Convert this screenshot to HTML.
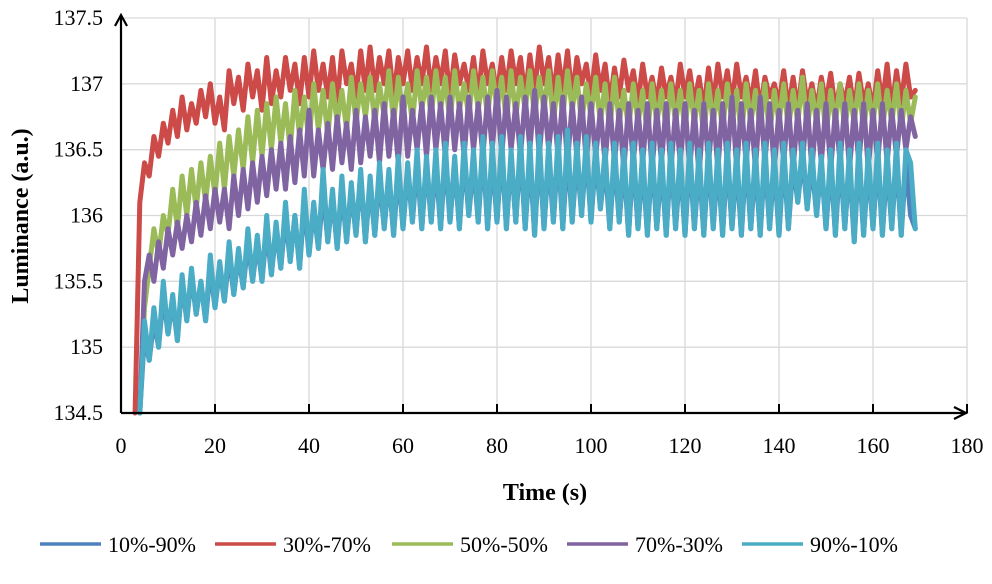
<!DOCTYPE html>
<html><head><meta charset="utf-8"><style>
html,body{margin:0;padding:0;background:#fff;}
svg{display:block;font-family:"Liberation Serif",serif;}
</style></head><body>
<svg id="chart" width="992" height="584" viewBox="0 0 992 584" xmlns="http://www.w3.org/2000/svg">
<g id="grid"></g>
<g id="series"></g>
<g id="axes"></g>
<text x="545" y="500" font-size="24" font-weight="bold" text-anchor="middle">Time (s)</text>
<text transform="translate(28,216) rotate(-90)" font-size="24" font-weight="bold" text-anchor="middle">Luminance (a.u.)</text>
<g id="legend"></g>
</svg>
<script>
const xTicks=[0,20,40,60,80,100,120,140,160,180];
const yTicks=[134.5,135,135.5,136,136.5,137,137.5];
const yTickLabels=["134.5","135","135.5","136","136.5","137","137.5"];
const seriesNames=["10%-90%","30%-70%","50%-50%","70%-30%","90%-10%"];
const seriesStart=[4,3,4,4,4];
const red=[134.5,136.1,136.4,136.3,136.6,136.45,136.7,136.55,136.8,136.6,136.9,136.65,136.85,136.7,136.95,136.75,137.0,136.7,136.9,136.65,137.1,136.85,137.05,136.8,137.15,136.9,137.1,136.8,137.2,136.85,137.1,136.9,137.2,136.95,137.15,136.85,137.2,136.9,137.25,136.95,137.15,136.9,137.2,136.85,137.25,137.0,137.15,136.9,137.25,136.95,137.28,136.95,137.2,137.0,137.25,136.9,137.2,137.0,137.25,136.95,137.2,137.0,137.28,136.95,137.2,137.0,137.25,136.9,137.22,137.0,137.15,136.95,137.2,136.9,137.25,137.0,137.15,136.9,137.2,136.95,137.25,137.0,137.2,136.9,137.22,136.95,137.28,137.0,137.2,136.9,137.22,136.95,137.25,136.9,137.2,137.0,137.15,136.9,137.22,136.95,137.15,136.85,137.12,136.9,137.18,136.95,137.1,136.85,137.15,136.9,137.05,136.85,137.12,136.9,137.05,136.85,137.15,136.9,137.1,136.85,137.05,136.8,137.12,136.85,137.15,136.9,137.1,136.85,137.15,136.9,137.05,136.85,137.1,136.8,137.05,136.9,137.0,136.85,137.1,136.8,137.05,136.8,137.1,136.85,137.0,136.8,137.05,136.85,137.08,136.8,137.0,136.85,137.05,136.8,137.08,136.85,137.0,136.8,137.1,136.85,137.15,136.8,137.1,136.85,137.15,136.9,136.95];
const green=[134.5,135.3,135.6,135.9,135.7,136.0,135.85,136.2,135.9,136.3,136.0,136.35,136.05,136.4,136.1,136.45,136.15,136.55,136.2,136.6,136.3,136.65,136.35,136.75,136.4,136.8,136.45,136.85,136.5,136.9,136.55,136.85,136.5,136.95,136.6,136.9,136.55,137.0,136.65,136.95,136.6,137.0,136.7,136.95,136.65,137.05,136.7,137.0,136.75,137.05,136.7,137.0,136.75,137.1,136.7,137.05,136.75,137.0,136.7,137.1,136.8,137.05,136.75,137.1,136.8,137.05,136.7,137.1,136.8,137.0,136.75,137.1,136.8,137.05,136.75,137.1,136.8,137.05,136.7,137.1,136.75,137.05,136.8,137.1,136.75,137.05,136.8,137.1,136.7,137.05,136.75,137.1,136.8,137.05,136.7,137.0,136.75,137.05,136.7,137.0,136.65,137.05,136.7,136.95,136.65,137.0,136.7,136.95,136.6,137.0,136.7,136.95,136.65,137.0,136.7,136.95,136.65,137.0,136.7,136.95,136.6,137.0,136.7,136.95,136.65,137.0,136.7,136.95,136.6,137.0,136.7,136.95,136.65,137.0,136.6,136.95,136.7,137.0,136.65,136.95,136.7,137.05,136.65,136.95,136.7,137.0,136.6,136.95,136.7,137.0,136.65,136.95,136.7,137.0,136.65,136.95,136.7,137.0,136.65,136.95,136.7,137.0,136.65,136.95,136.7,136.9];
const purple=[134.5,135.5,135.7,135.5,135.8,135.6,135.9,135.7,135.95,135.75,136.0,135.8,136.1,135.85,136.15,135.9,136.2,135.95,136.2,135.9,136.3,136.0,136.35,136.05,136.4,136.1,136.45,136.15,136.5,136.2,136.55,136.2,136.6,136.25,136.65,136.3,136.8,136.3,136.65,136.35,136.7,136.35,136.75,136.4,136.7,136.35,136.8,136.4,136.75,136.45,136.8,136.4,136.85,136.45,136.8,136.4,136.9,136.45,136.8,136.5,136.85,136.45,136.9,136.5,136.85,136.45,136.9,136.5,136.85,136.45,136.9,136.5,136.85,136.45,136.9,136.5,136.95,136.45,136.9,136.5,136.85,136.45,136.9,136.5,136.95,136.45,136.9,136.5,136.85,136.45,136.9,136.4,136.85,136.45,136.9,136.4,136.85,136.45,136.8,136.4,136.85,136.4,136.8,136.35,136.85,136.4,136.8,136.4,136.85,136.35,136.8,136.4,136.85,136.35,136.8,136.4,136.85,136.35,136.8,136.3,136.85,136.4,136.8,136.35,136.85,136.4,136.9,136.35,136.85,136.4,136.8,136.35,136.9,136.4,136.85,136.35,136.8,136.4,136.85,136.35,136.8,136.4,136.85,136.35,136.8,136.4,136.85,136.35,136.8,136.4,136.85,136.35,136.8,136.4,136.85,136.35,136.8,136.4,136.85,136.4,136.8,136.45,136.8,136.5,136.75,136.6];
const cyan=[134.5,135.2,134.9,135.3,135.0,135.5,135.1,135.4,135.05,135.55,135.2,135.6,135.25,135.5,135.2,135.7,135.3,135.65,135.35,135.8,135.4,135.75,135.45,135.9,135.5,135.85,135.5,136.0,135.55,135.95,135.6,136.1,135.65,136.0,135.6,136.2,135.7,136.1,135.75,136.35,135.8,136.2,135.75,136.3,135.8,136.25,135.85,136.35,135.8,136.3,135.85,136.4,135.9,136.35,135.85,136.45,135.9,136.4,135.95,136.5,135.9,136.45,135.95,136.5,135.9,136.55,135.95,136.45,135.9,136.55,136.0,136.5,135.95,136.6,135.9,136.55,135.95,136.6,135.9,136.5,135.95,136.6,135.9,136.55,135.85,136.6,135.9,136.55,135.95,136.6,135.9,136.65,135.95,136.55,136.0,136.6,135.95,136.55,136.05,136.5,135.9,136.55,135.95,136.5,135.85,136.55,135.9,136.5,135.85,136.55,135.9,136.5,135.85,136.55,135.9,136.5,135.85,136.55,135.9,136.5,135.85,136.55,135.9,136.5,135.85,136.55,135.9,136.5,135.85,136.55,135.9,136.5,135.85,136.55,135.9,136.5,135.85,136.55,135.9,136.5,136.1,136.55,136.05,136.5,136.0,136.45,135.9,136.5,135.85,136.55,135.9,136.5,135.8,136.55,135.85,136.5,135.9,136.55,135.85,136.5,135.9,136.55,135.85,136.5,136.4,135.9];
const blue=[134.5,135.1,134.9,135.2,135.0,135.4,135.1,135.35,135.05,135.5,135.2,135.55,135.25,135.5,135.2,135.6,135.3,135.6,135.35,135.7,135.4,135.7,135.45,135.8,135.5,135.8,135.5,135.9,135.55,135.9,135.6,136.0,135.65,136.0,135.6,136.1,135.7,136.05,135.75,136.2,135.8,136.15,135.75,136.2,135.8,136.2,135.85,136.3,135.8,136.25,135.85,136.3,135.9,136.3,135.85,136.35,135.9,136.35,135.95,136.4,135.9,136.4,135.95,136.4,135.9,136.45,135.95,136.4,135.9,136.45,136.0,136.4,135.95,136.5,135.9,136.45,135.95,136.5,135.9,136.45,135.95,136.5,135.9,136.45,135.85,136.5,135.9,136.45,135.95,136.5,135.9,136.5,135.95,136.45,136.0,136.5,135.95,136.45,136.05,136.4,135.9,136.45,135.95,136.4,135.85,136.45,135.9,136.4,135.85,136.45,135.9,136.4,135.85,136.45,135.9,136.4,135.85,136.45,135.9,136.4,135.85,136.45,135.9,136.4,135.85,136.45,135.9,136.4,135.85,136.45,135.9,136.4,135.85,136.45,135.9,136.4,135.85,136.45,135.9,136.4,136.1,136.45,136.05,136.4,136.0,136.4,135.9,136.4,135.85,136.45,135.9,136.4,135.8,136.45,135.85,136.4,135.9,136.45,135.85,136.4,135.9,136.45,135.85,136.4,136.0,135.9];
const seriesData=[blue,red,green,purple,cyan];
const colors=["#4f81bd","#cc4a47","#9bbb59","#8064a2","#4bacc6"];
const X0=121,X1=967,Y0=413,Y1=18;
const xs=v=>X0+(v-0)/(180-0)*(X1-X0);
const ys=v=>Y0-(v-134.5)/(137.5-134.5)*(Y0-Y1);
const NS="http://www.w3.org/2000/svg";
function mk(tag,attrs,parent){const e=document.createElementNS(NS,tag);for(const k in attrs)e.setAttribute(k,attrs[k]);parent.appendChild(e);return e;}
const grid=document.getElementById('grid'),axes=document.getElementById('axes'),sg=document.getElementById('series'),lg=document.getElementById('legend');
xTicks.forEach(t=>{if(t===0)return;const l=mk('line',{x1:xs(t),x2:xs(t),y1:Y1,y2:Y0,stroke:'#d9d9d9','stroke-width':1.3},grid);

});
yTicks.forEach(t=>{if(t===134.5)return;const l=mk('line',{x1:X0,x2:X1,y1:ys(t),y2:ys(t),stroke:'#d9d9d9','stroke-width':1.3},grid);

});
seriesData.forEach((arr,si)=>{const pts=arr.map((v,i)=>xs(seriesStart[si]+i).toFixed(1)+','+ys(v).toFixed(1)).join(' ');
const p=mk('polyline',{points:pts,fill:'none',stroke:colors[si],'stroke-width':5,'stroke-linejoin':'round','stroke-linecap':'round'},sg);

});
const ya=mk('path',{d:`M${X0},${Y0} L${X0},${Y1-3} M${X0-6},${Y1+8} L${X0},${Y1-3} L${X0+6},${Y1+8}`,stroke:'#000','stroke-width':2.2,fill:'none'},axes);


const xa=mk('path',{d:`M${X0},${Y0} L${X1},${Y0} M${X1-13},${Y0-6} L${X1-1},${Y0} L${X1-13},${Y0+6}`,stroke:'#000','stroke-width':2.2,fill:'none'},axes);


xTicks.forEach(t=>{const tk=mk('line',{x1:xs(t),x2:xs(t),y1:Y0,y2:Y0-9,stroke:'#000','stroke-width':2},axes);


const tx=mk('text',{x:xs(t),y:453,'font-size':22,'text-anchor':'middle',fill:'#000'},axes);tx.textContent=String(t);

});
yTicks.forEach((t,i)=>{const tx=mk('text',{x:103,y:ys(t)+7,'font-size':22,'text-anchor':'end',fill:'#000'},axes);tx.textContent=yTickLabels[i];

});
const legX=[40,215,392,567,742];
seriesNames.forEach((n,i)=>{const g=mk('g',{},lg);


mk('line',{x1:legX[i],x2:legX[i]+61,y1:544,y2:544,stroke:colors[i],'stroke-width':3.5},g);
const tx=mk('text',{x:legX[i]+68,y:552,'font-size':22,fill:'#000'},g);tx.textContent=n;});
</script>
</body></html>
